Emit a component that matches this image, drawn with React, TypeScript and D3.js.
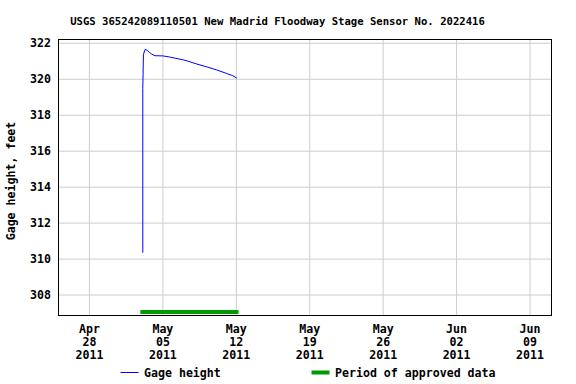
import React from "react";
import * as d3 from "d3";

const W = 576;
const H = 384;
const TITLE = "USGS 365242089110501 New Madrid Floodway Stage Sensor No. 2022416";
const Y_LABEL = "Gage height, feet";

const gageTimes = [
  "2011-05-03T02:00", "2011-05-03T02:00", "2011-05-03T03:30", "2011-05-03T07:30",
  "2011-05-03T12:00", "2011-05-03T17:00", "2011-05-03T22:30", "2011-05-04T06:00",
  "2011-05-05T00:00", "2011-05-05T15:00", "2011-05-06T06:00", "2011-05-06T21:00",
  "2011-05-07T09:00", "2011-05-08T04:00", "2011-05-09T03:00", "2011-05-10T02:00",
  "2011-05-11T01:00", "2011-05-11T16:00", "2011-05-12T01:00",
];
const gageValues = [
  310.35, 319.5, 321.39, 321.67,
  321.61, 321.5, 321.4, 321.31,
  321.3, 321.24, 321.16, 321.09,
  321.01, 320.86, 320.7, 320.53,
  320.33, 320.2, 320.07,
];
const approvedPeriod = ["2011-05-02T20:30", "2011-05-12T05:00"];

const xTicks = ["2011-04-28", "2011-05-05", "2011-05-12", "2011-05-19", "2011-05-26", "2011-06-02", "2011-06-09"];
const yTicks = [308, 310, 312, 314, 316, 318, 320, 322];
const xDomain = ["2011-04-25T00:00", "2011-06-11T00:00"];
const yDomain = [306.89, 322.24];

const LEGEND_LINE = "Gage height";
const LEGEND_BAR = "Period of approved data";

const FONT = "'DejaVu Sans Mono', monospace";
const FS = 11.6;
const parse = (s: string) => new Date(s);

export default function App() {
  const left = 58, right = 551, top = 39, bottom = 315;
  const x = d3.scaleTime().domain(xDomain.map(parse)).range([left, right]);
  const y = d3.scaleLinear().domain(yDomain).range([bottom, top]);
  const data = gageTimes.map((t, i) => ({ t: parse(t), v: gageValues[i] }));
  const line = d3.line<{ t: Date; v: number }>().x((d) => x(d.t)).y((d) => y(d.v));
  const monthFmt = d3.timeFormat("%b");
  const dayFmt = d3.timeFormat("%d");
  const yearFmt = d3.timeFormat("%Y");

  return (
    <svg width={W} height={H} style={{ position: "absolute", left: 0, top: 0, background: "#fff" }} fontFamily={FONT} fontWeight="bold">
      <rect x={0} y={0} width={W} height={H} fill="#fff" />
      <text x={277.5} y={25} textAnchor="middle" fontSize={10.6}>{TITLE}</text>
      {xTicks.map((t) => (
        <line key={"gx" + t} x1={x(parse(t))} x2={x(parse(t))} y1={top} y2={bottom} stroke="#cccccc" strokeWidth={1} />
      ))}
      {yTicks.map((v) => (
        <line key={"gy" + v} x1={left} x2={right} y1={y(v)} y2={y(v)} stroke="#cccccc" strokeWidth={1} />
      ))}
      <rect
        x={x(parse(approvedPeriod[0]))}
        y={310}
        width={x(parse(approvedPeriod[1])) - x(parse(approvedPeriod[0]))}
        height={4}
        fill="#009900"
      />
      <path d={line(data) || ""} fill="none" stroke="#0000ff" strokeWidth={1} />
      <rect x={left + 0.5} y={top + 0.5} width={right - left} height={bottom - top} fill="none" stroke="#000" strokeWidth={1} />
      {yTicks.map((v) => (
        <text key={"ty" + v} x={51} y={y(v) + 4} textAnchor="end" fontSize={FS}>{v}</text>
      ))}
      {xTicks.map((t) => {
        const d = parse(t);
        const cx = x(d);
        return (
          <text key={"tx" + t} textAnchor="middle" fontSize={FS}>
            <tspan x={cx} y={333}>{monthFmt(d)}</tspan>
            <tspan x={cx} y={346}>{dayFmt(d)}</tspan>
            <tspan x={cx} y={359}>{yearFmt(d)}</tspan>
          </text>
        );
      })}
      <text transform={`translate(15, ${(top + bottom) / 2 + 4}) rotate(-90)`} textAnchor="middle" fontSize={FS}>{Y_LABEL}</text>
      <line x1={120.5} x2={138.5} y1={372.5} y2={372.5} stroke="#0000ff" strokeWidth={1} />
      <text x={144} y={377} fontSize={FS}>{LEGEND_LINE}</text>
      <rect x={311.5} y={370.5} width={18} height={4} fill="#009900" />
      <text x={335} y={377} fontSize={FS}>{LEGEND_BAR}</text>
    </svg>
  );
}
